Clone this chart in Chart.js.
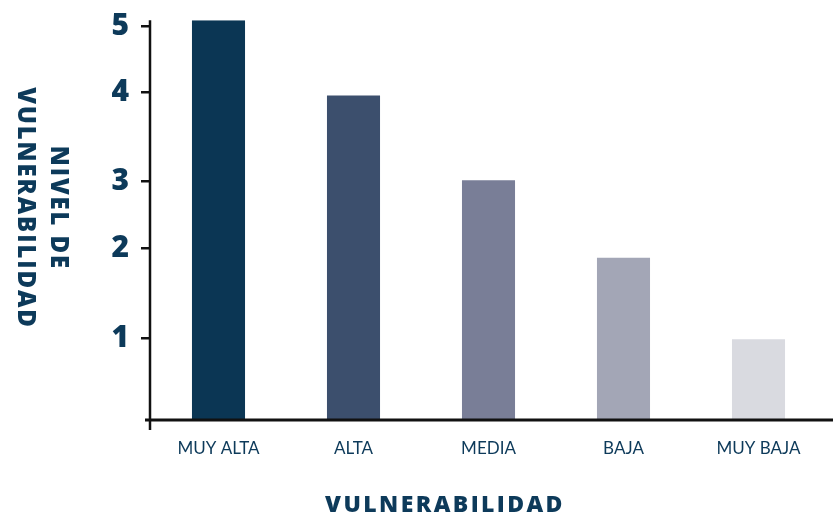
<!DOCTYPE html>
<html lang="es">
    <head>
        <meta charset="UTF-8">
        <title>Nivel de vulnerabilidad</title>
        <style>
            html, body {
                margin: 0;
                padding: 0;
                background: #ffffff;
            }
            #box {
                width: 833px;
                height: 516px;
            }
        </style>
    </head>
    <body>
        <div id="box"><canvas id="vulnChart"></canvas></div>

        <script src="https://cdn.jsdelivr.net/npm/chart.js"></script>
        <script>
            // datos
            const categorias = ['MUY ALTA', 'ALTA', 'MEDIA', 'BAJA', 'MUY BAJA'];
            const valores = [5.0, 4.06, 3.0, 2.03, 1.01];
            const colores = ['#0b3654', '#3c4f6d', '#797e97', '#a3a6b6', '#d9dae0'];
            // las marcas del eje y no estan igualmente espaciadas en el original
            const posTicks = [4.92, 4.10, 2.98, 2.15, 1.02];
            const etiquetasTicks = ['5', '4', '3', '2', '1'];

            const azul = '#0d3a5a';

            // ejes y titulos dibujados a mano (el titulo del eje y se lee de arriba abajo)
            const ejesPlugin = {
                id: 'ejes',
                afterDraw(chart) {
                    const ctx = chart.ctx;
                    const a = chart.chartArea;
                    ctx.save();
                    ctx.strokeStyle = '#111111';
                    ctx.lineWidth = 3;
                    ctx.beginPath();
                    ctx.moveTo(145, a.bottom);
                    ctx.lineTo(833, a.bottom);
                    ctx.stroke();
                    ctx.lineWidth = 2.5;
                    ctx.beginPath();
                    ctx.moveTo(a.left - 1, a.top);
                    ctx.lineTo(a.left - 1, a.bottom + 10);
                    ctx.stroke();

                    ctx.fillStyle = azul;
                    ctx.textAlign = 'center';
                    ctx.textBaseline = 'middle';
                    ctx.letterSpacing = '2.4px';
                    ctx.font = '800 23px "Open Sans"';
                    ctx.fillText('VULNERABILIDAD', 445, 505);

                    ctx.translate(42, 208);
                    ctx.rotate(Math.PI / 2);
                    ctx.letterSpacing = '1.9px';
                    ctx.font = '800 24px "Open Sans"';
                    ctx.fillText('NIVEL DE', 0, -16);
                    ctx.fillText('VULNERABILIDAD', 0, 17);
                    ctx.restore();
                }
            };

            const ctx = document.getElementById('vulnChart').getContext('2d');
            const myChart = new Chart(ctx, {
                type: 'bar',
                data: {
                    labels: categorias,
                    datasets: [{
                        data: valores,
                        backgroundColor: colores,
                        borderWidth: 0,
                        categoryPercentage: 1,
                        barPercentage: 0.393
                    }]
                },
                options: {
                    responsive: true,
                    maintainAspectRatio: false,
                    animation: false,
                    layout: {
                        padding: { top: 0, right: 7, left: 0, bottom: 0 }
                    },
                    plugins: {
                        legend: { display: false },
                        tooltip: { enabled: false }
                    },
                    scales: {
                        x: {
                            offset: true,
                            border: { display: false },
                            grid: { display: false },
                            ticks: {
                                color: azul,
                                padding: 10,
                                font: { family: 'Lato', size: 17 }
                            },
                            afterFit: (scale) => { scale.height = 96; }
                        },
                        y: {
                            min: 0,
                            max: 5,
                            border: { display: false },
                            grid: {
                                drawOnChartArea: false,
                                tickLength: 10,
                                color: '#111111',
                                lineWidth: 2.5
                            },
                            afterBuildTicks: (scale) => {
                                scale.ticks = posTicks.map(v => ({ value: v }));
                            },
                            ticks: {
                                color: azul,
                                padding: 12,
                                font: { family: 'Open Sans', size: 30, weight: '800', lineHeight: 0.55 },
                                callback: (value, index) => etiquetasTicks[index]
                            },
                            afterFit: (scale) => { scale.width = 151; }
                        }
                    }
                },
                plugins: [ejesPlugin]
            });
        </script>
    </body>
</html>
